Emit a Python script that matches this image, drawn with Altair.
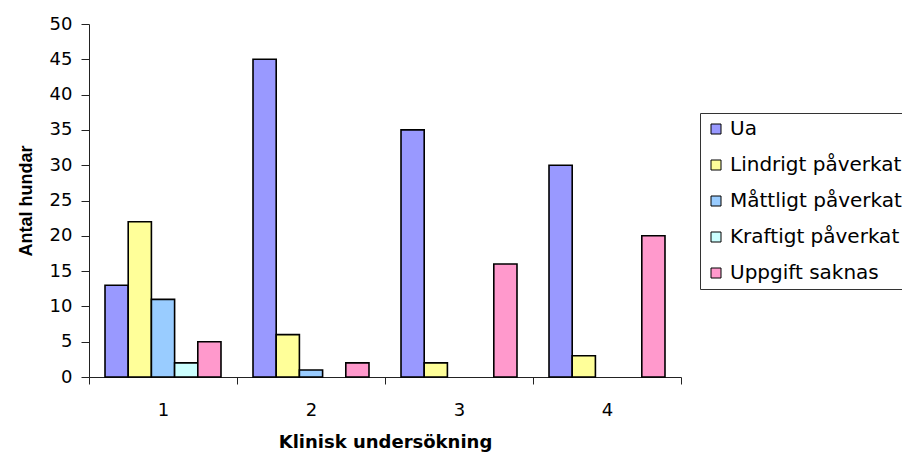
import altair as alt
import pandas as pd

# Clinical examination round (x) and the number of dogs in each grading group
undersokning = ["1", "2", "3", "4"]
grupper = ["Ua", "Lindrigt påverkat", "Måttligt påverkat", "Kraftigt påverkat", "Uppgift saknas"]
ua = [13, 45, 35, 30]
lindrigt = [22, 6, 2, 3]
mattligt = [11, 1, 0, 0]
kraftigt = [2, 0, 0, 0]
saknas = [5, 2, 16, 20]
farger = ["#9999FF", "#FFFF99", "#99CCFF", "#CCFFFF", "#FF99CC"]
y_ticks = list(range(0, 51, 5))

serier = [ua, lindrigt, mattligt, kraftigt, saknas]
rows = []
for grupp, values in zip(grupper, serier):
    for kat, v in zip(undersokning, values):
        rows.append({"undersokning": kat, "grupp": grupp, "antal": v})
df = pd.DataFrame(rows)

tick_font = "DejaVu Sans"

chart = (
    alt.Chart(df)
    .transform_filter("datum.antal > 0")
    .mark_bar(stroke="black", strokeWidth=1.6)
    .encode(
        x=alt.X(
            "undersokning:N",
            sort=undersokning,
            title="Klinisk undersökning",
            scale=alt.Scale(paddingInner=0, paddingOuter=0),
            axis=alt.Axis(
                labelAngle=0,
                tickBand="extent",
                tickSize=7,
                labelPadding=17,
                labelFont=tick_font,
                labelFontSize=18,
                labelColor="black",
                titleFont="DejaVu Sans",
                titleFontWeight="bold",
                titleFontSize=18,
                titleColor="black",
                titlePadding=14,
                domainColor="#222222",
                tickColor="#222222",
            ),
        ),
        xOffset=alt.XOffset(
            "grupp:N",
            sort=grupper,
            scale=alt.Scale(paddingInner=0, paddingOuter=0.69),
        ),
        y=alt.Y(
            "antal:Q",
            title="Antal hundar",
            scale=alt.Scale(domain=[0, 50], nice=False),
            axis=alt.Axis(
                values=y_ticks,
                grid=False,
                tickSize=8,
                labelPadding=9,
                labelFont=tick_font,
                labelFontSize=18,
                labelColor="black",
                titleFont="Liberation Sans",
                titleFontWeight="bold",
                titleFontSize=18,
                titleColor="black",
                titlePadding=14,
                domainColor="#222222",
                tickColor="#222222",
            ),
        ),
        color=alt.Color(
            "grupp:N",
            sort=grupper,
            scale=alt.Scale(domain=grupper, range=farger),
            legend=alt.Legend(
                title=None,
                orient="none",
                legendX=611,
                legendY=89,
                symbolType="square",
                symbolSize=100,
                symbolStrokeColor="black",
                symbolStrokeWidth=1,
                symbolOpacity=1,
                labelFont=tick_font,
                labelFontSize=20,
                labelColor="black",
                labelOffset=4,
                labelLimit=400,
                rowPadding=16,
                padding=6,
                strokeColor="#333333",
            ),
        ),
    )
    .properties(
        width=592,
        height=353,
        autosize=alt.AutoSizeParams(type="none"),
        padding={"left": 89, "top": 24, "right": 221, "bottom": 75},
    )
    .configure_view(stroke=None)
)

chart.save("out.html", embed_options={"renderer": "svg", "actions": False})
